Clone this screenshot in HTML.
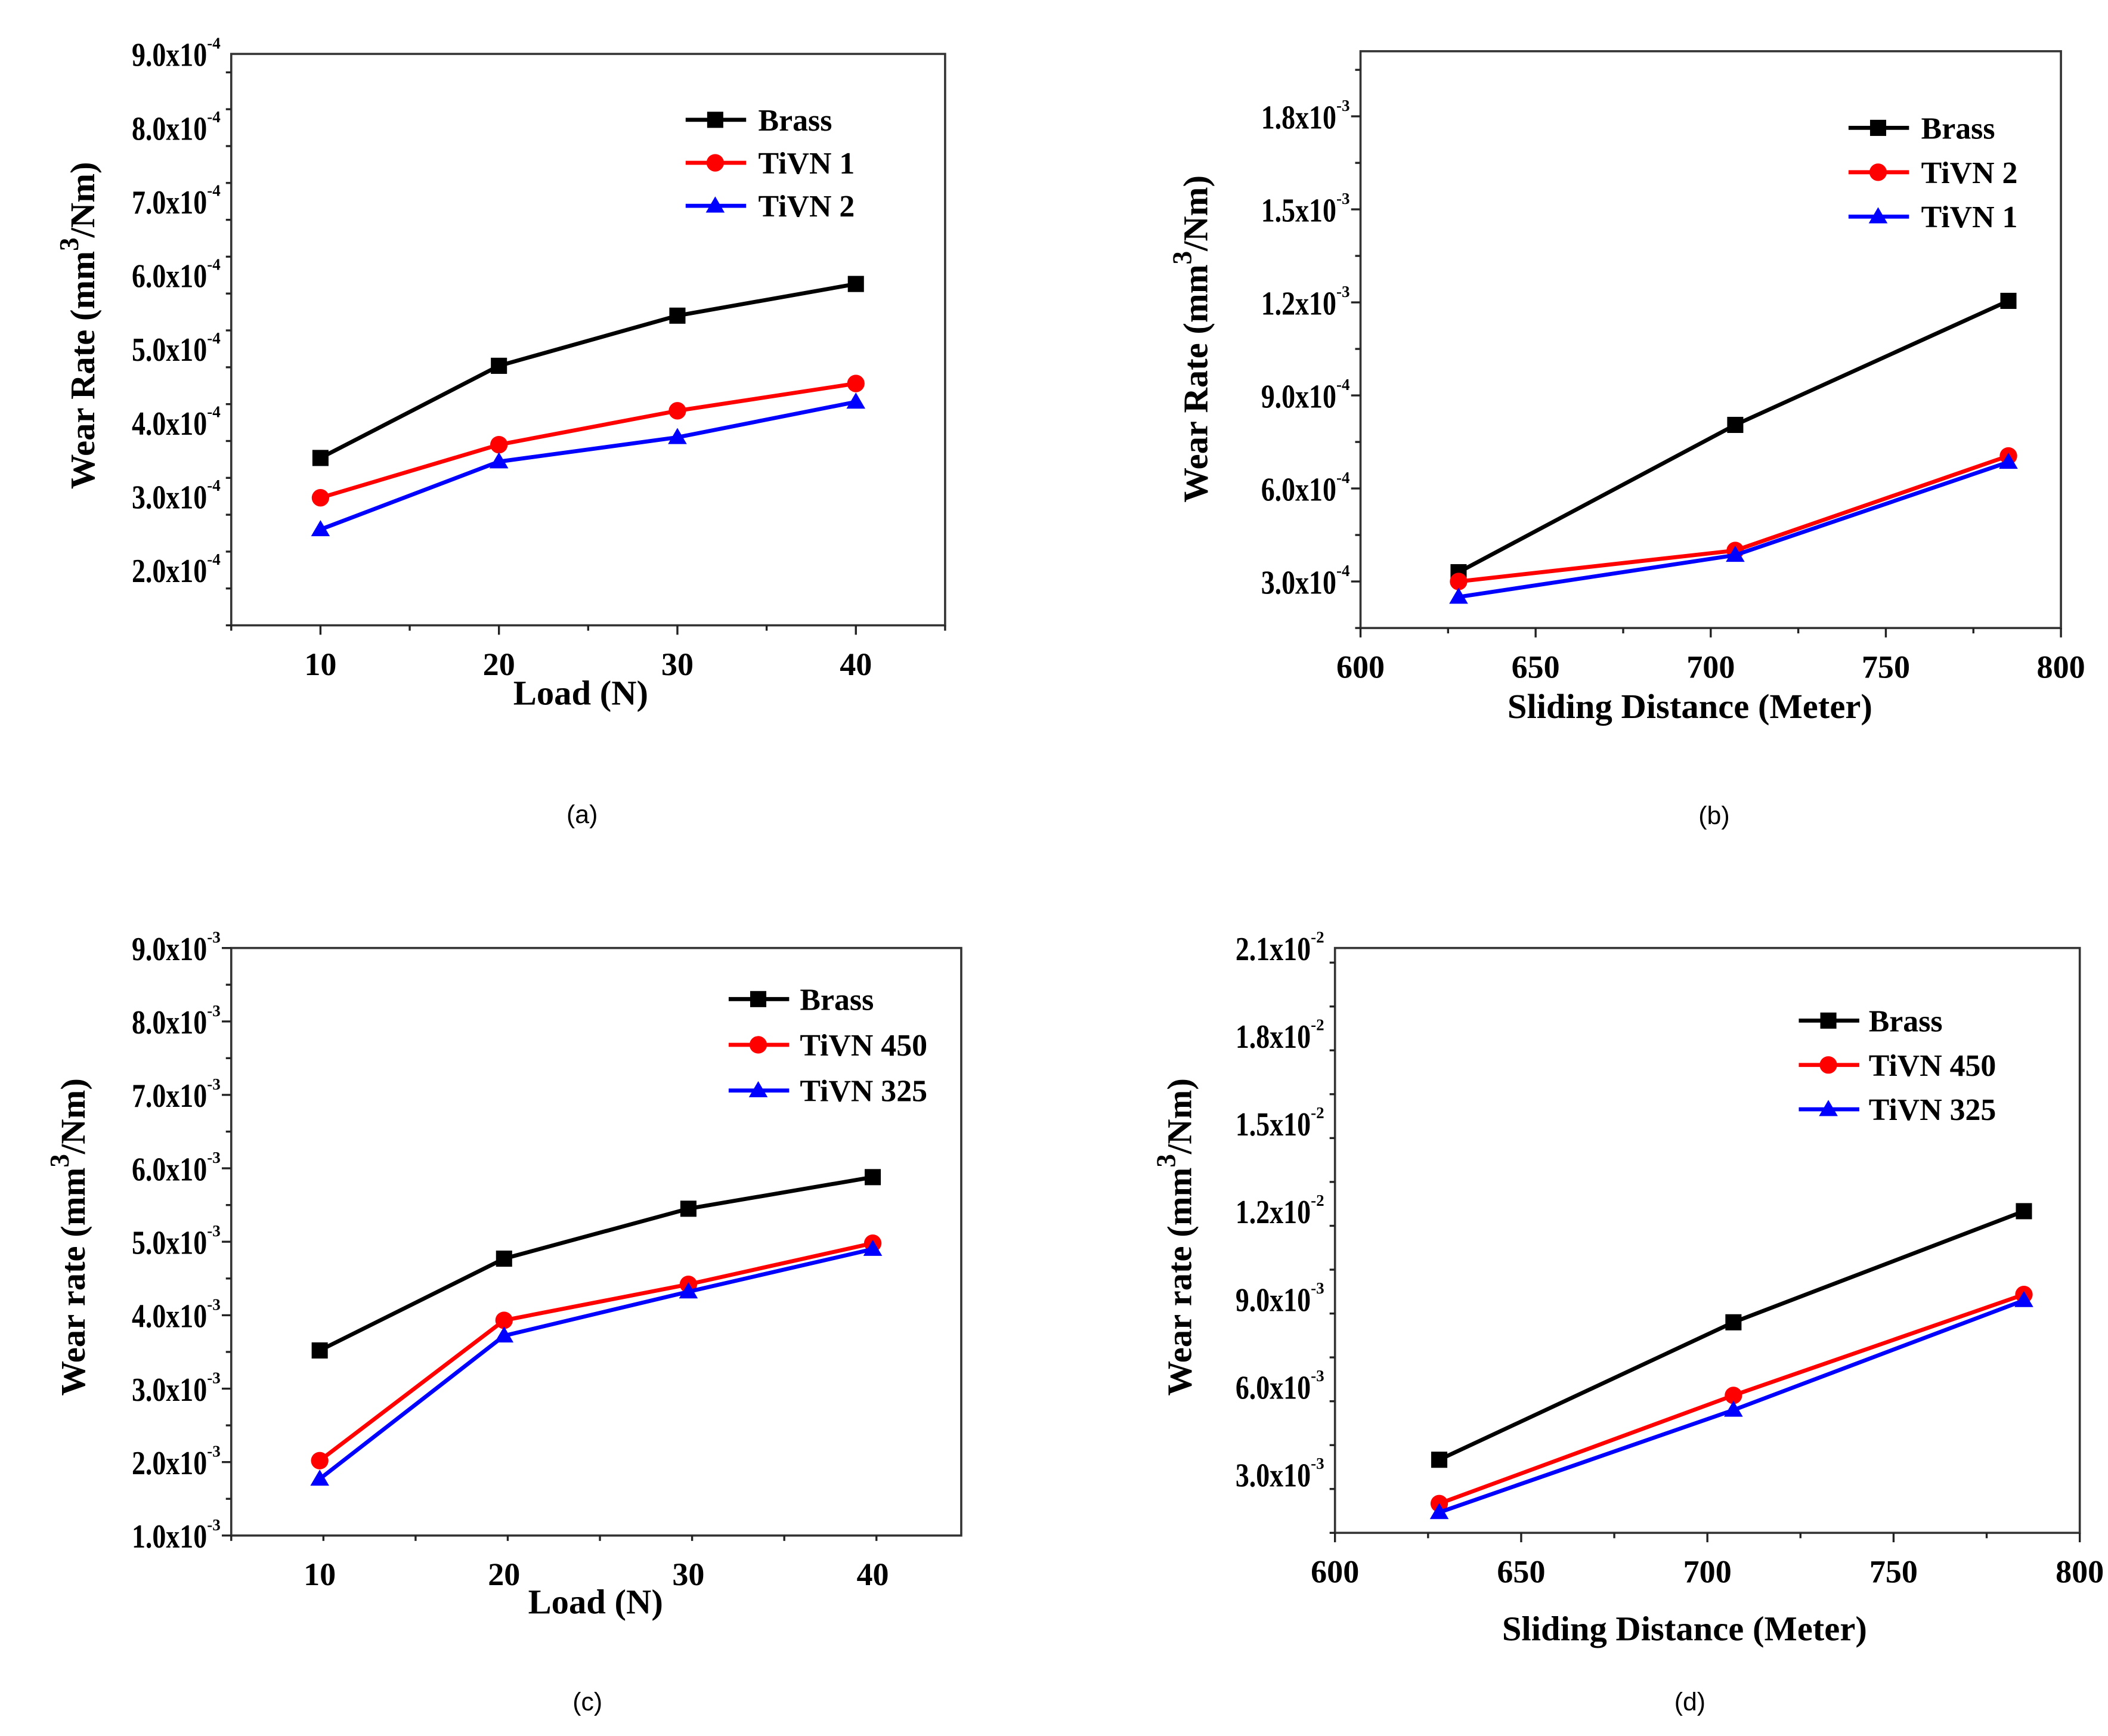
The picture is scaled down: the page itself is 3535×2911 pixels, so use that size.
<!DOCTYPE html>
<html><head><meta charset="utf-8"><style>
html,body{margin:0;padding:0;background:#fff;}
svg{display:block;}
text{font-family:"Liberation Serif",serif;font-weight:bold;fill:#000;}
.cap{font-family:"Liberation Sans",sans-serif;font-weight:normal;}
</style></head><body>
<svg id="fig" width="3535" height="2911" viewBox="0 0 1568 1291" xmlns="http://www.w3.org/2000/svg"></svg>
<script>
// Panel (a)
const aLoads = [10, 20, 30, 40];
const aBrass = [3.52, 4.77, 5.45, 5.88];
const aTiVN1 = [2.98, 3.70, 4.16, 4.53];
const aTiVN2 = [2.55, 3.47, 3.80, 4.28];
const aYTicks = [2, 3, 4, 5, 6, 7, 8, 9];
const aXTicks = [10, 20, 30, 40];
// Panel (b)
const bDist = [628, 707, 785];
const bBrass = [3.3, 8.05, 12.05];
const bTiVN2 = [3.0, 4.0, 7.05];
const bTiVN1 = [2.5, 3.85, 6.85];
const bYTicks = [3, 6, 9, 12, 15, 18];
const bYLabels = ["3.0x10|-4", "6.0x10|-4", "9.0x10|-4", "1.2x10|-3", "1.5x10|-3", "1.8x10|-3"];
const bXTicks = [600, 650, 700, 750, 800];
// Panel (c)
const cLoads = [10, 20, 30, 40];
const cBrass = [3.52, 4.77, 5.45, 5.88];
const cTiVN450 = [2.02, 3.93, 4.42, 4.98];
const cTiVN325 = [1.77, 3.72, 4.32, 4.90];
const cYTicks = [1, 2, 3, 4, 5, 6, 7, 8, 9];
const cXTicks = [10, 20, 30, 40];
// Panel (d)
const dDist = [628, 707, 785];
const dBrass = [3.5, 8.2, 12.0];
const dTiVN450 = [2.0, 5.7, 9.15];
const dTiVN325 = [1.7, 5.2, 8.95];
const dYTicks = [3, 6, 9, 12, 15, 18, 21];
const dYLabels = ["3.0x10|-3", "6.0x10|-3", "9.0x10|-3", "1.2x10|-2", "1.5x10|-2", "1.8x10|-2", "2.1x10|-2"];
const dXTicks = [600, 650, 700, 750, 800];

const NS = "http://www.w3.org/2000/svg";
const svg = document.getElementById("fig");
function mk(tag, attrs, parent) {
  const e = document.createElementNS(NS, tag);
  for (const k in attrs) e.setAttribute(k, attrs[k]);
  (parent || svg).appendChild(e);
  return e;
}
function tickLabel(g, x, y, str) {
  const parts = str.split("|");
  const t = mk("g", {}, g);
  mk("text", {x: x - 18, y: y, "text-anchor": "end", "font-size": 25, textLength: 56, lengthAdjust: "spacingAndGlyphs"}, t).textContent = parts[0];
  mk("text", {x: x - 18, y: y - 13, "text-anchor": "start", "font-size": 12}, t).textContent = parts[1];
  return t;
}
function marker(g, kind, x, y, color) {
  let m;
  if (kind === "sq") m = mk("rect", {x: x - 6, y: y - 6, width: 12, height: 12, fill: color}, g);
  else if (kind === "ci") m = mk("circle", {cx: x, cy: y, r: 6.5, fill: color}, g);
  else m = mk("polygon", {points: `${x},${y - 7} ${x - 7},${y + 5} ${x + 7},${y + 5}`, fill: color}, g);
  return m;
}
function panel(p) {
  const g = mk("g", {});
  
  
  const sx = v => p.x0 + (v - p.xmin) / (p.xmax - p.xmin) * (p.x1 - p.x0);
  const sy = v => p.y1 - (v - p.ymin) / (p.ymax - p.ymin) * (p.y1 - p.y0);
  const frame = mk("rect", {x: p.x0, y: p.y0, width: p.x1 - p.x0, height: p.y1 - p.y0, fill: "none", stroke: "#333", "stroke-width": 1.6}, g);
  
  
  for (let v = p.ymin; v <= p.ymax + 1e-9; v += p.yminor) {
    const major = p.yTicks.some(t => Math.abs(t - v) < 1e-6);
    mk("line", {x1: p.x0, x2: p.x0 - (major ? 7 : 4), y1: sy(v), y2: sy(v), stroke: "#222", "stroke-width": 1.5}, g);
  }
  p.yTicks.forEach((v, i) => {
    const t = tickLabel(g, p.x0, sy(v) + 9, p.yLabels[i]);
    
    
  });
  for (let v = p.xmin; v <= p.xmax + 1e-9; v += p.xminor) {
    const major = p.xTicks.some(t => Math.abs(t - v) < 1e-6);
    mk("line", {x1: sx(v), x2: sx(v), y1: p.y1, y2: p.y1 + (major ? 7 : 4), stroke: "#222", "stroke-width": 1.5}, g);
  }
  p.xTicks.forEach(v => {
    const t = mk("text", {x: sx(v), y: p.y1 + 37, "text-anchor": "middle", "font-size": 24}, g);
    t.textContent = v;
    
    
  });
  const xt = mk("text", {x: p.xlab[0], y: p.xlab[1], "text-anchor": "middle", "font-size": 26}, g);
  xt.textContent = p.xTitle;
  
  
  const yt = mk("text", {x: 0, y: 0, "text-anchor": "middle", "font-size": 26, transform: `translate(${p.ylab[0]},${p.ylab[1]}) rotate(-90)`}, g);
  yt.appendChild(document.createTextNode(p.yTitle + " (mm"));
  const sup = mk("tspan", {"font-size": 20, dy: -12}, yt); sup.textContent = "3";
  const rest = mk("tspan", {dy: 12}, yt); rest.textContent = "/Nm)";
  
  
  p.series.forEach((s, k) => {
    const sg = mk("g", {}, g);
    
    
    const pts = p.xs.map((x, i) => `${sx(x)},${sy(s.vals[i])}`).join(" ");
    mk("polyline", {points: pts, fill: "none", stroke: s.color, "stroke-width": 3}, sg);
    p.xs.forEach((x, i) => {
      const m = marker(sg, s.mk, sx(x), sy(s.vals[i]), s.color);
      
      
    });
    const ly = p.leg[1] + k * p.leg[3];
    const lg = mk("g", {}, g);
    
    
    mk("line", {x1: p.leg[0], x2: p.leg[0] + 45, y1: ly, y2: ly, stroke: s.color, "stroke-width": 3}, lg);
    marker(lg, s.mk, p.leg[0] + 22, ly, s.color);
    const lt = mk("text", {x: p.leg[0] + p.leg[2], y: ly + 8, "font-size": 23}, lg);
    lt.textContent = s.label;
  });
  const cap = mk("text", {x: p.cap[0], y: p.cap[1], "text-anchor": "middle", "font-size": 19, class: "cap"}, g);
  cap.textContent = p.capText;
  
  
}
const lab = (arr, e) => arr.map(v => v.toFixed(1) + "x10|" + e);

panel({name: "panel-a", x0: 172, x1: 703, y0: 40, y1: 465, xmin: 5, xmax: 45, xminor: 5, ymin: 1.25, ymax: 9, yminor: 0.5,
  yTicks: aYTicks, yLabels: lab(aYTicks, "-4"), xTicks: aXTicks, xs: aLoads,
  xTitle: "Load (N)", xlab: [432, 524], yTitle: "Wear Rate", ylab: [70, 242],
  series: [{label: "Brass", vals: aBrass, color: "#000", mk: "sq"}, {label: "TiVN 1", vals: aTiVN1, color: "#f00", mk: "ci"}, {label: "TiVN 2", vals: aTiVN2, color: "#00f", mk: "tr"}],
  leg: [510, 89, 54, 32], cap: [433, 612], capText: "(a)"});

panel({name: "panel-b", x0: 1012, x1: 1533, y0: 38, y1: 467, xmin: 600, xmax: 800, xminor: 25, ymin: 1.5, ymax: 20.1, yminor: 1.5,
  yTicks: bYTicks, yLabels: bYLabels, xTicks: bXTicks, xs: bDist,
  xTitle: "Sliding Distance (Meter)", xlab: [1257, 534], yTitle: "Wear Rate", ylab: [898, 252],
  series: [{label: "Brass", vals: bBrass, color: "#000", mk: "sq"}, {label: "TiVN 2", vals: bTiVN2, color: "#f00", mk: "ci"}, {label: "TiVN 1", vals: bTiVN1, color: "#00f", mk: "tr"}],
  leg: [1375, 95, 54, 33], cap: [1275, 613], capText: "(b)"});

panel({name: "panel-c", x0: 172, x1: 715, y0: 705, y1: 1142, xmin: 5.2, xmax: 44.8, xminor: 5, ymin: 1, ymax: 9, yminor: 0.5,
  yTicks: cYTicks, yLabels: lab(cYTicks, "-3"), xTicks: cXTicks, xs: cLoads,
  xTitle: "Load (N)", xlab: [443, 1200], yTitle: "Wear rate", ylab: [63, 920],
  series: [{label: "Brass", vals: cBrass, color: "#000", mk: "sq"}, {label: "TiVN 450", vals: cTiVN450, color: "#f00", mk: "ci"}, {label: "TiVN 325", vals: cTiVN325, color: "#00f", mk: "tr"}],
  leg: [542, 743, 53, 34], cap: [437, 1272], capText: "(c)"});

panel({name: "panel-d", x0: 993, x1: 1547, y0: 705, y1: 1140, xmin: 600, xmax: 800, xminor: 25, ymin: 1, ymax: 21, yminor: 1.5,
  yTicks: dYTicks, yLabels: dYLabels, xTicks: dXTicks, xs: dDist,
  xTitle: "Sliding Distance (Meter)", xlab: [1253, 1220], yTitle: "Wear rate", ylab: [886, 920],
  series: [{label: "Brass", vals: dBrass, color: "#000", mk: "sq"}, {label: "TiVN 450", vals: dTiVN450, color: "#f00", mk: "ci"}, {label: "TiVN 325", vals: dTiVN325, color: "#00f", mk: "tr"}],
  leg: [1338, 759, 52, 33], cap: [1257, 1272], capText: "(d)"});
</script>
</body></html>
